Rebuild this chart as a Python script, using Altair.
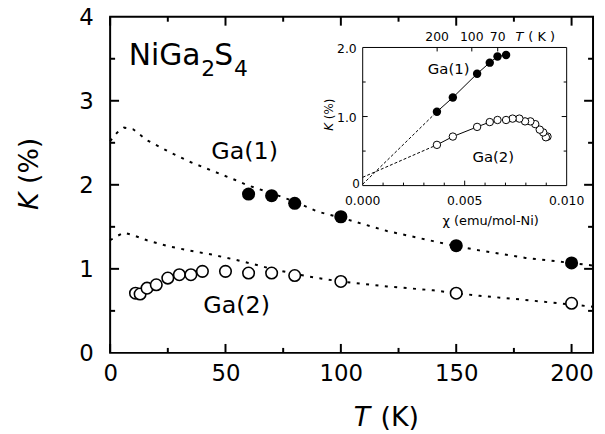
import altair as alt
import pandas as pd

# ---------------- main panel data ----------------
T_fill = [60, 70, 80, 100, 150, 200]
K_fill = [1.89, 1.87, 1.78, 1.62, 1.275, 1.07]

T_open = [11, 13, 16, 20, 25, 30, 35, 40, 50, 60, 70, 80, 100, 150, 200]
K_open = [0.71, 0.70, 0.77, 0.81, 0.89, 0.93, 0.93, 0.97, 0.97, 0.95, 0.95, 0.92, 0.85, 0.71, 0.59]

# dotted guide curves
T_curve = [0, 3, 6, 10, 16, 25, 34, 44, 54, 60, 70, 80, 90, 100, 120, 140, 150, 160, 180, 200, 209]
K1_curve = [2.52, 2.62, 2.68, 2.66, 2.53, 2.40, 2.28, 2.17, 2.06, 1.99, 1.90, 1.80, 1.68, 1.61,
            1.45, 1.33, 1.27, 1.22, 1.13, 1.07, 1.04]
K2_curve = [1.34, 1.39, 1.43, 1.40, 1.34, 1.27, 1.22, 1.17, 1.11, 1.07, 1.00, 0.94, 0.89, 0.85,
            0.79, 0.745, 0.71, 0.68, 0.63, 0.575, 0.55]

# ---------------- inset data ----------------
chi_fill = [0.00703, 0.00661, 0.00623, 0.00561, 0.00442, 0.00364]
chi_open = [0.00906, 0.00898, 0.00885, 0.00868, 0.00846, 0.00822, 0.00796, 0.00768,
            0.00735, 0.00703, 0.00661, 0.00623, 0.00561, 0.00442, 0.00364]
ext1_chi = [0.0, 0.00364]
ext1_K = [0.02, 1.07]
ext2_chi = [0.0, 0.00364]
ext2_K = [0.12, 0.59]
solid2_maxchi = 0.0067
top_T_labels = ["200", "100", "70"]
top_T_chi = [0.00365, 0.00535, 0.00662]

# ---------------- layout ----------------
FONT = "DejaVu Sans"
W, H = 487, 339
XMAX = 209.3
IX0, IX1 = 254.7, 460.4      # inset frame (pixels inside plot)
IY0, IY1 = 170.3, 31.0

xs = alt.Scale(domain=[0, XMAX], nice=False, zero=False)
ys = alt.Scale(domain=[0, 4], nice=False, zero=False)
ixs = alt.Scale(domain=[0, 0.01], range=[IX0, IX1], nice=False, zero=False)
iys = alt.Scale(domain=[0, 2], range=[IY0, IY1], nice=False, zero=False)

xaxis = alt.Axis(values=[0, 50, 100, 150, 200], title=None, labelFont=FONT, labelFontSize=23,
                 labelColor="black", ticks=False, tickSize=0, domain=False, grid=False,
                 labelPadding=10, labelFlush=False, labelOverlap=False)
yaxis = alt.Axis(values=[0, 1, 2, 3, 4], title=None, labelFont=FONT, labelFontSize=23,
                 labelColor="black", ticks=False, tickSize=0, domain=False, grid=False,
                 labelPadding=17, labelFlush=False, labelOverlap=False, labelOffset=1)


def X(f):
    return alt.X(f, type="quantitative", scale=xs, axis=xaxis)


def Y(f):
    return alt.Y(f, type="quantitative", scale=ys, axis=yaxis)


def IX(f):
    return alt.X(f, type="quantitative", scale=ixs, axis=None)


def IY(f):
    return alt.Y(f, type="quantitative", scale=iys, axis=None)


def txt(s, x, y, size, italic=False, align="left", baseline="alphabetic", angle=0):
    return alt.Chart(pd.DataFrame({"s": [s]})).mark_text(
        align=align, baseline=baseline, fontSize=size, font=FONT,
        fontStyle="italic" if italic else "normal", angle=angle, color="black"
    ).encode(x=alt.value(x), y=alt.value(y), text="s:N")


curve_df = pd.DataFrame({"T": T_curve, "K1": K1_curve, "K2": K2_curve})
fill_df = pd.DataFrame({"T": T_fill, "K": K_fill, "chi": chi_fill})
open_df = pd.DataFrame({"T": T_open, "K": K_open, "chi": chi_open})

dot = dict(color="black", strokeWidth=2, strokeDash=[3, 6.5])
c1 = alt.Chart(curve_df).mark_line(**dot).encode(x=X("T"), y=Y("K1"))
c2 = alt.Chart(curve_df).mark_line(**dot).encode(x=X("T"), y=Y("K2"))

pts_open = alt.Chart(open_df).mark_point(shape="circle", filled=False, fill="white", fillOpacity=1,
                                         stroke="black", strokeWidth=1.6, size=135, opacity=1
                                         ).encode(x=X("T"), y=Y("K"))
pts_fill = alt.Chart(fill_df).mark_point(shape="circle", filled=True, color="black", size=175,
                                         opacity=1).encode(x=X("T"), y=Y("K"))

# inward ticks for main frame
def xticks(vals, length):
    d = pd.DataFrame({"v": vals})
    b = alt.Chart(d).mark_rule(color="black", strokeWidth=2).encode(
        x=X("v"), y=alt.value(H), y2=alt.value(H - length))
    t = alt.Chart(d).mark_rule(color="black", strokeWidth=2).encode(
        x=X("v"), y=alt.value(0), y2=alt.value(length))
    return [b, t]


def yticks(vals, length):
    d = pd.DataFrame({"v": vals})
    l = alt.Chart(d).mark_rule(color="black", strokeWidth=2).encode(
        y=Y("v"), x=alt.value(0), x2=alt.value(length))
    r = alt.Chart(d).mark_rule(color="black", strokeWidth=2).encode(
        y=Y("v"), x=alt.value(W), x2=alt.value(W - length))
    return [l, r]


main_ticks = (xticks([0, 50, 100, 150, 200], 9) + xticks([25, 75, 125, 175], 5)
              + yticks([1, 2, 3], 9) + yticks([0.5, 1.5, 2.5, 3.5], 5))

main_texts = [
    txt("NiGa", 18.7, 48.5, 30),
    txt("2", 92, 60, 22),
    txt("S", 105, 48.5, 30),
    txt("4", 125, 60, 22),
    txt("Ga(1)", 102, 143, 24),
    txt("Ga(2)", 94, 298.5, 24),
    txt("T", 245.7, 413, 27, italic=True),
    txt("(K)", 272.7, 413, 27),
    txt("K", -72.3, 195, 27, italic=True, angle=270),
    txt("(%)", -72.3, 168.7, 27, angle=270),
]

main = alt.layer(c1, c2, pts_open, pts_fill, *main_ticks, *main_texts)

# ---------------- inset ----------------
frame = alt.Chart(pd.DataFrame({"x0": [0.0], "x1": [0.01], "y0": [0.0], "y1": [2.0]})).mark_rect(
    fill="white", stroke="black", strokeWidth=1).encode(x=IX("x0"), x2="x1", y=IY("y0"), y2="y1")


def ixticks(vals, length):
    d = pd.DataFrame({"v": vals})
    return alt.Chart(d).mark_rule(color="black", strokeWidth=1).encode(
        x=IX("v"), y=alt.value(IY0), y2=alt.value(IY0 - length))


def iyticks(vals, length):
    d = pd.DataFrame({"v": vals})
    l = alt.Chart(d).mark_rule(color="black", strokeWidth=1).encode(
        y=IY("v"), x=alt.value(IX0), x2=alt.value(IX0 + length))
    r = alt.Chart(d).mark_rule(color="black", strokeWidth=1).encode(
        y=IY("v"), x=alt.value(IX1), x2=alt.value(IX1 - length))
    return [l, r]


top_df = pd.DataFrame({"v": top_T_chi, "lab": top_T_labels})
itop_ticks = alt.Chart(top_df).mark_rule(color="black", strokeWidth=1).encode(
    x=IX("v"), y=alt.value(IY1), y2=alt.value(IY1 + 4))

inset_ticks = ([ixticks([0.005], 5), ixticks([0.001, 0.002, 0.003, 0.004, 0.006, 0.007, 0.008, 0.009], 3),
                itop_ticks] + iyticks([1.0], 5) + iyticks([0.5, 1.5], 3))

ext_df1 = pd.DataFrame({"chi": ext1_chi, "K": ext1_K})
ext_df2 = pd.DataFrame({"chi": ext2_chi, "K": ext2_K})
dash = dict(color="black", strokeWidth=1, strokeDash=[3, 2])
e1 = alt.Chart(ext_df1).mark_line(**dash).encode(x=IX("chi"), y=IY("K"))
e2 = alt.Chart(ext_df2).mark_line(**dash).encode(x=IX("chi"), y=IY("K"))
s1 = alt.Chart(fill_df).mark_line(color="black", strokeWidth=1).encode(x=IX("chi"), y=IY("K"), order="chi")
s2 = alt.Chart(open_df).transform_filter(alt.datum.chi <= solid2_maxchi).mark_line(
    color="black", strokeWidth=1).encode(x=IX("chi"), y=IY("K"), order="chi")

ip_open = alt.Chart(open_df).mark_point(shape="circle", filled=False, fill="white", fillOpacity=1,
                                        stroke="black", strokeWidth=1, size=56, opacity=1
                                        ).encode(x=IX("chi"), y=IY("K"))
ip_fill = alt.Chart(fill_df).mark_point(shape="circle", filled=True, color="black", size=72,
                                        opacity=1).encode(x=IX("chi"), y=IY("K"))

ylab_df = pd.DataFrame({"v": [1.0, 2.0], "lab": ["1.0", "2.0"]})
iylabels = alt.Chart(ylab_df).mark_text(align="right", baseline="middle", font=FONT, fontSize=12.5,
                                        dx=-6, dy=2, color="black").encode(
    y=IY("v"), x=alt.value(IX0), text="lab:N")
izero = alt.Chart(pd.DataFrame({"v": [0.0], "lab": ["0"]})).mark_text(
    align="right", baseline="middle", font=FONT, fontSize=12, dx=-3, dy=-2, color="black").encode(
    y=IY("v"), x=alt.value(IX0), text="lab:N")
xlab_df = pd.DataFrame({"v": [0.0, 0.005, 0.010], "lab": ["0.000", "0.005", "0.010"]})
ixlabels = alt.Chart(xlab_df).mark_text(align="center", baseline="middle", font=FONT, fontSize=12.5,
                                        color="black").encode(
    x=IX("v"), y=alt.value(IY0 + 16), text="lab:N")
itoplabels = alt.Chart(top_df).mark_text(align="center", baseline="middle", font=FONT, fontSize=12.5,
                                         color="black").encode(
    x=IX("v"), y=alt.value(20), text="lab:N")

inset_texts = [
    txt("T", 408.7, 24.5, 13, italic=True),
    txt("( K )", 421.7, 24.5, 13),
    txt("Ga(1)", 320.4, 58, 15),
    txt("Ga(2)", 365.4, 146, 15),
    txt("\u03c7 (emu/mol-Ni)", 383.7, 206, 13, align="center", baseline="middle"),
    txt("K", 224.3, 115, 12, italic=True, angle=270),
    txt("(%)", 224.3, 103.3, 12, angle=270),
]

inset = alt.layer(frame, *inset_ticks, e1, e2, s1, s2, ip_open, ip_fill,
                  iylabels, izero, ixlabels, itoplabels, *inset_texts)

chart = alt.layer(main, inset).resolve_scale(x="independent", y="independent").properties(
    width=W, height=H,
    autosize=alt.AutoSizeParams(type="none"),
    padding={"left": 103, "top": 7, "right": 4, "bottom": 80},
    background="white",
).configure_view(stroke="black", strokeWidth=2)

chart.save("out.html", embed_options={"renderer": "svg", "actions": False})
